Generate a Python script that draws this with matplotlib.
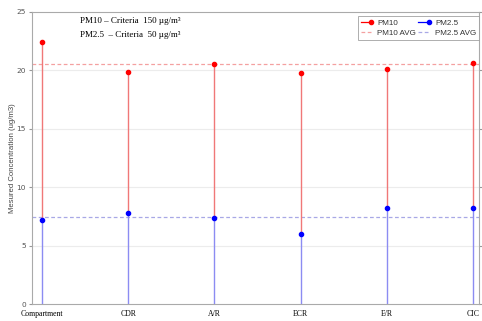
import matplotlib
matplotlib.use("Agg")
import matplotlib.pyplot as plt
import numpy as np
from matplotlib.lines import Line2D
from matplotlib.legend_handler import HandlerLine2D

categories = ["Compartment", "CDR", "A/R", "ECR", "E/R", "CIC"]
pm10 = [22.45, 19.85, 20.55, 19.75, 20.15, 20.65]
pm25 = [7.18, 7.8, 7.38, 5.98, 8.2, 8.2]
pm10_avg = 20.55
pm25_avg = 7.5
yticks = [0, 5, 10, 15, 20, 25]


class RightMarkerHandler(HandlerLine2D):
    def create_artists(self, legend, orig_handle, xdescent, ydescent,
                       width, height, fontsize, trans):
        ydata = np.full(2, ((height - ydescent) / 2))
        xdata = np.array([-xdescent, -xdescent + width])
        line = Line2D(xdata, ydata, color=orig_handle.get_color(),
                      lw=orig_handle.get_linewidth(), transform=trans)
        mk = Line2D([xdata[1]], [ydata[0]], ls="none", marker="o",
                    ms=orig_handle.get_markersize(),
                    color=orig_handle.get_color(), transform=trans)
        return [line, mk]


fig = plt.figure(figsize=(4.82, 3.21), dpi=100)
ax = fig.add_axes([0.0664, 0.052, 0.9274, 0.911])

x = np.arange(1, len(categories) + 1)

for s in [5, 10, 15, 20]:
    ax.axhline(s, color="#ececec", lw=0.8, zorder=0)

ax.vlines(x, pm25, pm10, color="#f07878", lw=1.0, zorder=2)
ax.vlines(x, 0, pm25, color="#8c8cf2", lw=1.0, zorder=3)
ax.plot(x, pm10, ls="none", marker="o", ms=3.0, color="red", zorder=4)
ax.plot(x, pm25, ls="none", marker="o", ms=3.0, color="blue", zorder=4)
h1 = ax.axhline(pm10_avg, color="#f4a0a0", lw=0.9, ls=(0, (3, 2)), zorder=1)
h2 = ax.axhline(pm25_avg, color="#a8a8e6", lw=0.9, ls=(0, (3, 2)), zorder=1)

hp10 = Line2D([], [], color="red", lw=0.9, marker="o", ms=3.0)
hp25 = Line2D([], [], color="blue", lw=0.9, marker="o", ms=3.0)
leg = ax.legend([hp10, h1, hp25, h2], ["PM10", "PM10 AVG", "PM2.5", "PM2.5 AVG"],
                ncol=2, loc="upper right", bbox_to_anchor=(1.0, 0.985),
                borderaxespad=0.0,
                handler_map={hp10: RightMarkerHandler(), hp25: RightMarkerHandler()},
                prop={"family": "Liberation Sans", "size": 5.8},
                frameon=True, fancybox=False, edgecolor="#999999",
                handlelength=1.3, handletextpad=0.75, columnspacing=0.3,
                borderpad=0.35, labelspacing=0.3)
leg.get_frame().set_linewidth(0.7)
for t in leg.get_texts():
    t.set_color("#333333")

ax.set_xlim(0.884, 6.07)
ax.set_ylim(0, 25)
ax.set_yticks(yticks)
ax.set_xticks(x)
ax.set_xticklabels(categories, family="Liberation Serif", fontsize=5.6)
ax.tick_params(axis="x", length=0, pad=4)
ax.tick_params(axis="y", labelsize=5.3, labelcolor="#555555", length=2.5,
               color="#999999", right=True, direction="out", pad=2)
for sp in ax.spines.values():
    sp.set_color("#aaaaaa")
    sp.set_linewidth(0.8)
ax.set_ylabel("Mesured Concentration (ug/m3)", family="Liberation Sans",
              fontsize=5.6, color="#444444")
ax.yaxis.set_label_coords(-0.036, 0.5)

ax.text(0.107, 0.969, "PM10 \u2013 Criteria  150 \u00b5g/m\u00b3", transform=ax.transAxes,
        family="Liberation Serif", fontsize=6.5, va="center", ha="left")
ax.text(0.107, 0.921, "PM2.5  \u2013 Criteria  50 \u00b5g/m\u00b3", transform=ax.transAxes,
        family="Liberation Serif", fontsize=6.5, va="center", ha="left")

fig.savefig("out.png", dpi=100)
